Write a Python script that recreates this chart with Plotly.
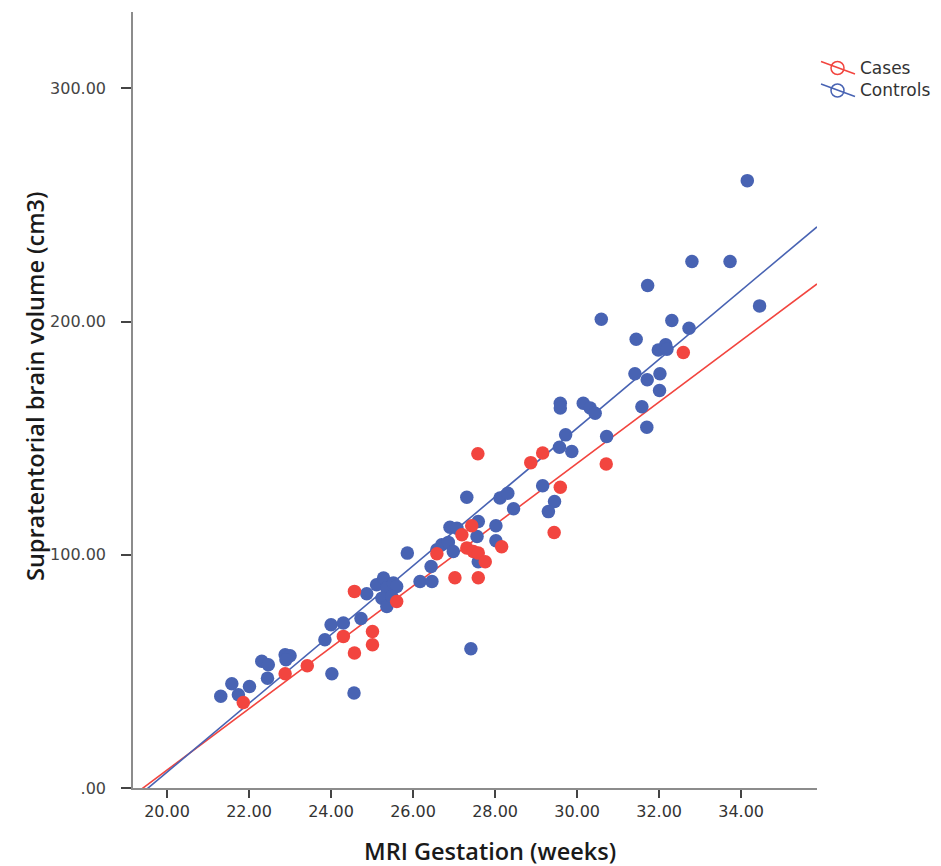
import plotly.graph_objects as go

# Controls (blue)
ctrl_x = [21.31, 21.58, 21.74, 22.01, 22.31, 22.47, 22.45, 22.88, 23.00, 22.90,
          24.02, 24.56, 23.85, 24.00, 24.30, 24.73, 24.87, 25.11, 25.28, 25.36,
          25.52, 25.60, 25.24, 25.36, 25.48, 25.86, 26.17, 26.46, 26.44, 26.58,
          26.70, 26.86, 26.98, 26.90, 27.07, 27.59, 27.56, 28.02, 28.02, 27.59,
          27.31, 28.12, 28.31, 28.45, 29.16, 29.45, 29.30, 29.57, 29.72, 29.87,
          30.72, 29.59, 29.59, 30.15, 30.32, 30.44, 31.58, 31.70, 31.41, 31.71,
          32.02, 32.01, 31.98, 32.16, 32.19, 31.44, 32.31, 32.73, 30.59, 31.72,
          32.80, 33.73, 34.45, 34.15, 27.41]
ctrl_y = [39.3, 44.7, 40.0, 43.5, 54.3, 52.8, 47.1, 57.1, 56.7, 55.0,
          49.0, 40.7, 63.6, 70.0, 70.7, 72.7, 83.3, 87.1, 90.0, 85.7,
          87.9, 86.4, 81.4, 77.8, 82.1, 100.7, 88.5, 88.5, 95.0, 102.1,
          104.3, 105.3, 101.4, 111.8, 111.4, 114.3, 107.8, 112.4, 106.0, 97.0,
          124.7, 124.3, 126.4, 119.7, 129.6, 122.8, 118.5, 146.1, 151.4, 144.3,
          150.7, 165.0, 162.9, 165.0, 162.9, 160.7, 163.5, 154.7, 177.6, 175.0,
          177.6, 170.4, 187.8, 190.0, 188.1, 192.4, 200.4, 197.1, 201.0, 215.4,
          225.7, 225.7, 206.7, 260.4, 59.7]

# Cases (red)
case_x = [21.86, 22.88, 23.42, 24.30, 24.57, 25.01, 25.01, 24.57, 25.60, 26.58,
          27.19, 27.43, 27.31, 27.47, 27.59, 27.76, 27.02, 27.59, 28.16, 27.58,
          28.87, 29.16, 29.59, 29.44, 30.71, 32.59]
case_y = [36.7, 49.0, 52.4, 65.0, 57.9, 67.1, 61.4, 84.3, 80.0, 100.4,
          108.6, 112.4, 102.9, 101.4, 100.7, 97.0, 90.1, 90.1, 103.4, 143.3,
          139.5, 143.6, 128.9, 109.5, 138.9, 186.7]

# Fit lines (intercept, slope)
case_fit = [-255.3, 13.15]
ctrl_fit = [-288.2, 14.75]

x_ticks = [20, 22, 24, 26, 28, 30, 32, 34]
x_ticktext = ["20.00", "22.00", "24.00", "26.00", "28.00", "30.00", "32.00", "34.00"]
y_ticks = [0, 100, 200, 300]
y_ticktext = [".00", "100.00", "200.00", "300.00"]
legend_names = ["Cases", "Controls"]

X_RANGE = [19.17, 35.85]
Y_RANGE = [0, 332.7]

BLUE = "#4863B3"
RED = "#F2453F"

W, H = 941, 866
ML, MR, MT, MB = 133, 124, 12, 78
PW, PH = W - ML - MR, H - MT - MB


def px(xp):
    return (xp - ML) / PW


def py(yp):
    return (H - MB - yp) / PH


fig = go.Figure()

for (a, b), col in [(case_fit, RED), (ctrl_fit, BLUE)]:
    xl = list(X_RANGE)
    fig.add_trace(go.Scatter(x=xl, y=[a + b * v for v in xl], mode="lines",
                             line=dict(color=col, width=1.6),
                             showlegend=False, hoverinfo="skip"))

fig.add_trace(go.Scatter(x=ctrl_x, y=ctrl_y, mode="markers",
                         marker=dict(color=BLUE, size=13.5, line=dict(width=0)),
                         showlegend=False))
fig.add_trace(go.Scatter(x=case_x, y=case_y, mode="markers",
                         marker=dict(color=RED, size=13.5, line=dict(width=0)),
                         showlegend=False))

# custom legend (slanted fit line through open circle)
shapes = []
annotations = []
for i, (name, col) in enumerate(zip(legend_names, [RED, BLUE])):
    cy = 68 + i * 22.5
    shapes.append(dict(type="line", xref="paper", yref="paper",
                       x0=px(821), y0=py(cy - 6.5), x1=px(855), y1=py(cy + 6),
                       line=dict(color=col, width=1.5)))
    shapes.append(dict(type="circle", xref="paper", yref="paper",
                       x0=px(831), y0=py(cy - 6.5), x1=px(844), y1=py(cy + 6.5),
                       line=dict(color=col, width=1.5)))
    annotations.append(dict(text=name, xref="paper", yref="paper",
                            x=px(858), y=py(cy), xanchor="left", yanchor="middle",
                            showarrow=False,
                            font=dict(family="DejaVu Sans", size=17, color="#333333")))

annotations.append(dict(text="MRI Gestation (weeks)", xref="paper", yref="paper",
                        x=px(490), y=py(851), xanchor="center", yanchor="middle",
                        showarrow=False,
                        font=dict(family="Open Sans", size=23.5, color="#1a1a1a", weight=600)))
annotations.append(dict(text="Supratentorial brain volume (cm3)", xref="paper", yref="paper",
                        x=px(35), y=py(386), xanchor="center", yanchor="middle",
                        textangle=-90, showarrow=False,
                        font=dict(family="Open Sans", size=23.5, color="#1a1a1a", weight=600)))

fig.update_layout(
    width=W, height=H,
    margin=dict(l=ML, r=MR, t=MT, b=MB),
    paper_bgcolor="white", plot_bgcolor="white",
    font=dict(family="DejaVu Sans", color="#333333"),
    showlegend=False,
    shapes=shapes,
    annotations=annotations,
    xaxis=dict(range=X_RANGE, tickvals=x_ticks, ticktext=x_ticktext,
               showgrid=False, zeroline=False, showline=True,
               linecolor="#8c8c8c", linewidth=1.5, ticks="outside",
               ticklen=8, tickwidth=1.5, tickcolor="#444444",
               ticklabelstandoff=0,
               tickfont=dict(family="DejaVu Sans", size=16, color="#333333")),
    yaxis=dict(range=Y_RANGE, tickvals=y_ticks, ticktext=y_ticktext,
               showgrid=False, zeroline=False, showline=True,
               linecolor="#8c8c8c", linewidth=1.5, ticks="outside",
               ticklen=10, tickwidth=1.5, tickcolor="#444444",
               ticklabelstandoff=12,
               tickfont=dict(family="DejaVu Sans", size=16, color="#444444")),
)

fig.write_html("out.html")
